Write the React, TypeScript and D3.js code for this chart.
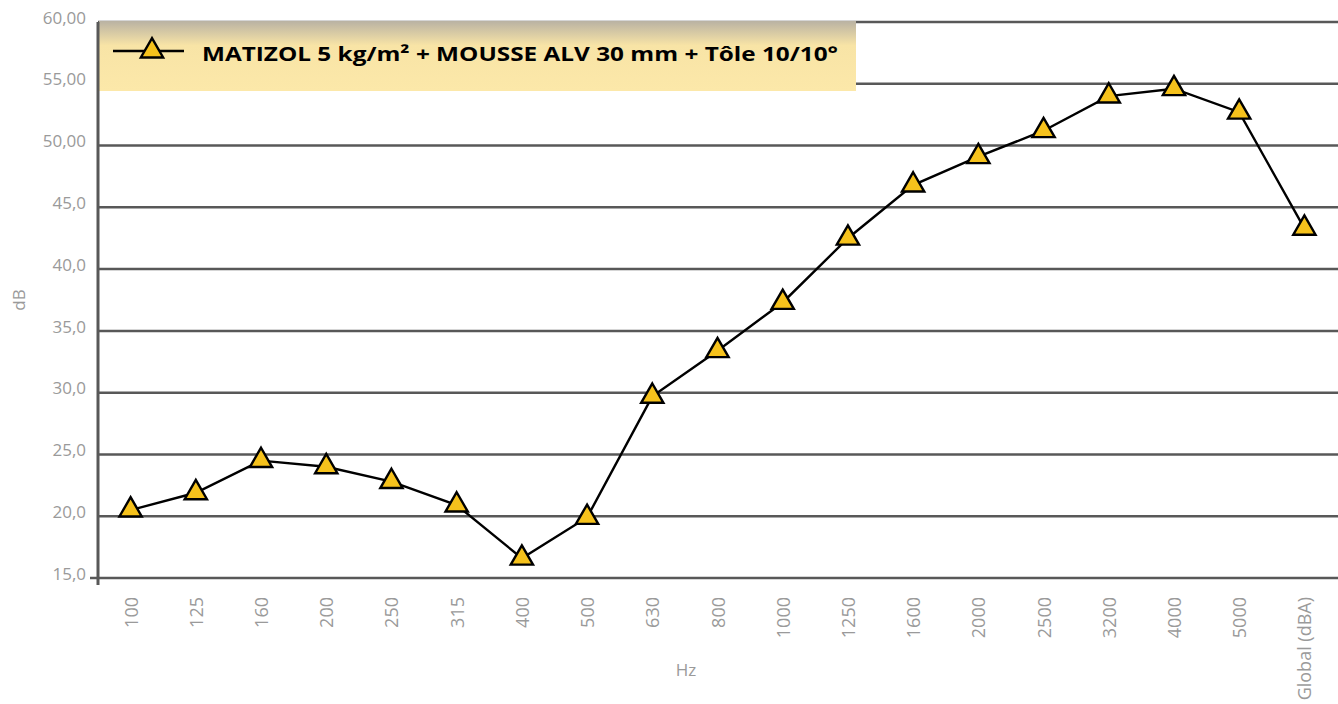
import React, { useEffect, useRef } from 'react';
import * as d3 from 'd3';

const categories = ['100', '125', '160', '200', '250', '315', '400', '500', '630', '800', '1000', '1250', '1600', '2000', '2500', '3200', '4000', '5000', 'Global (dBA)'];
const values = [20.5, 21.9, 24.5, 24.0, 22.8, 20.9, 16.6, 19.9, 29.7, 33.4, 37.3, 42.5, 46.8, 49.1, 51.2, 54.0, 54.6, 52.7, 43.3];
const yTicks = [15, 20, 25, 30, 35, 40, 45, 50, 55, 60];
const yTickLabels = ['15,0', '20,0', '25,0', '30,0', '35,0', '40,0', '45,0', '50,00', '55,00', '60,00'];
const seriesName = 'MATIZOL 5 kg/m² + MOUSSE ALV 30 mm + Tôle 10/10°';

const App: React.FC = () => {
	const svgRef = useRef<SVGSVGElement>(null);

	useEffect(() => {
		if (!svgRef.current) return;
		const width = 1338;
		const height = 704;
		const left = 98;
		const right = 1337;
		const top = 22;
		const bottom = 578;
		const font = '"Open Sans", "Noto Sans", sans-serif';

		const svg = d3.select(svgRef.current)
			.attr('width', width)
			.attr('height', height);
		svg.selectAll('*').remove();

		const xScale = d3.scaleBand<string>()
			.domain(categories)
			.range([left, right]);
		const yScale = d3.scaleLinear()
			.domain([15, 60])
			.range([bottom, top]);

		const defs = svg.append('defs');
		const grad = defs.append('linearGradient')
			.attr('id', 'legendGrad')
			.attr('x1', 0).attr('y1', 0).attr('x2', 0).attr('y2', 1);
		grad.append('stop').attr('offset', '0%').attr('stop-color', '#b9b2a3');
		grad.append('stop').attr('offset', '35%').attr('stop-color', '#f8e4a6');
		grad.append('stop').attr('offset', '100%').attr('stop-color', '#fce8a9');

		// gridlines
		svg.append('g')
			.selectAll('line')
			.data(yTicks.filter(t => t > 15))
			.join('line')
			.attr('x1', left)
			.attr('x2', width)
			.attr('y1', d => yScale(d))
			.attr('y2', d => yScale(d))
			.attr('stroke', '#585858')
			.attr('stroke-width', 2.5);

		// legend box (drawn over top gridlines)
		svg.append('rect')
			.attr('x', left + 1)
			.attr('y', top - 1)
			.attr('width', 757)
			.attr('height', 70)
			.attr('fill', 'url(#legendGrad)');

		// x axis
		svg.append('line')
			.attr('x1', 90).attr('x2', width)
			.attr('y1', bottom).attr('y2', bottom)
			.attr('stroke', '#585858').attr('stroke-width', 2.5);
		// y axis
		svg.append('line')
			.attr('x1', left).attr('x2', left)
			.attr('y1', top).attr('y2', bottom + 7)
			.attr('stroke', '#585858').attr('stroke-width', 3);

		// y tick labels
		svg.append('g')
			.selectAll('text')
			.data(yTicks)
			.join('text')
			.attr('x', 86)
			.attr('y', d => yScale(d))
			.attr('dy', '0.1em')
			.attr('text-anchor', 'end')
			.attr('font-family', font)
			.attr('font-size', 17)
			.attr('fill', '#9a9a9a')
			.text((d, i) => yTickLabels[i]);

		// x tick labels
		svg.append('g')
			.selectAll('text')
			.data(categories)
			.join('text')
			.attr('transform', d => `translate(${xScale(d)! + xScale.bandwidth() / 2},597) rotate(-90)`)
			.attr('text-anchor', 'end')
			.attr('dominant-baseline', 'central')
			.attr('font-family', font)
			.attr('font-size', 18)
			.attr('fill', '#9a9a9a')
			.text(d => d);

		// axis titles
		svg.append('text')
			.attr('transform', 'translate(18,300) rotate(-90)')
			.attr('text-anchor', 'middle')
			.attr('dominant-baseline', 'central')
			.attr('font-family', font)
			.attr('font-size', 17)
			.attr('fill', '#9a9a9a')
			.text('dB');
		svg.append('text')
			.attr('x', 686)
			.attr('y', 676)
			.attr('text-anchor', 'middle')
			.attr('font-family', font)
			.attr('font-size', 17)
			.attr('fill', '#9a9a9a')
			.text('Hz');

		const cx = (d: string) => xScale(d)! + xScale.bandwidth() / 2;
		const line = d3.line<number>()
			.x((d, i) => cx(categories[i]))
			.y(d => yScale(d));

		svg.append('path')
			.datum(values)
			.attr('d', line)
			.attr('fill', 'none')
			.attr('stroke', '#000')
			.attr('stroke-width', 2.4);

		const tri = d3.symbol().type(d3.symbolTriangle).size(215);
		svg.append('g')
			.selectAll('path')
			.data(values)
			.join('path')
			.attr('d', tri)
			.attr('transform', (d, i) => `translate(${cx(categories[i])},${yScale(d)})`)
			.attr('fill', '#f6c21c')
			.attr('stroke', '#000')
			.attr('stroke-width', 2.4);

		// legend
		const lg = svg.append('g');
		lg.append('line')
			.attr('x1', 113).attr('x2', 184)
			.attr('y1', 51).attr('y2', 51)
			.attr('stroke', '#000').attr('stroke-width', 2.4);
		lg.append('path')
			.attr('d', tri)
			.attr('transform', 'translate(152,51)')
			.attr('fill', '#f6c21c')
			.attr('stroke', '#000')
			.attr('stroke-width', 2.4);
		lg.append('text')
			.attr('x', 202)
			.attr('y', 61)
			.attr('font-family', font)
			.attr('font-weight', 'bold')
			.attr('font-size', 20)
			.attr('fill', '#000')
			.attr('textLength', 636)
			.attr('lengthAdjust', 'spacingAndGlyphs')
			.text(seriesName);
	}, []);

	return <svg ref={svgRef} style={{ position: 'absolute', left: 0, top: 0, display: 'block' }}></svg>;
};

export default App;
